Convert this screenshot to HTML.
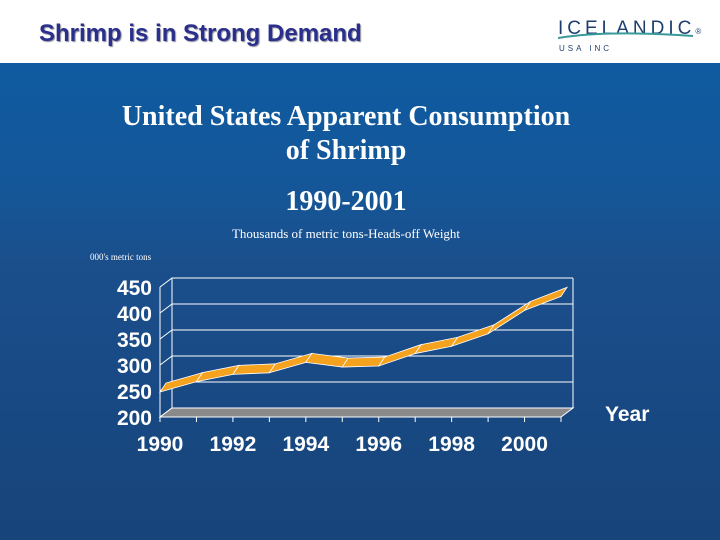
<!DOCTYPE html>
<html><head><meta charset="utf-8"><style>
body{margin:0;width:720px;height:540px;overflow:hidden;font-family:"Liberation Sans",sans-serif}
#bg{position:absolute;left:0;top:63px;width:720px;height:477px;background:linear-gradient(180deg,#0f5aa0 0%,#145799 25%,#1a4f8c 42%,#194a85 65%,#174479 100%)}
#top{position:absolute;left:0;top:0;width:720px;height:63px;background:#fff}
.t{position:absolute;color:#fff;font-family:"Liberation Serif",serif;text-align:center;font-weight:bold}
</style></head><body>
<div id="top">
<div style="position:absolute;left:39px;top:20px;font-size:24px;font-weight:bold;color:#2a2f8c;text-shadow:1px 1px 1px #889">Shrimp is in Strong Demand</div>
<div style="position:absolute;left:558px;top:18px;font-size:19px;letter-spacing:4px;color:#1d3f6e">ICELANDIC<span style="font-size:8px;letter-spacing:0">®</span></div>
<svg style="position:absolute;left:558px;top:30px" width="140" height="12"><path d="M0 8 Q50 0 135 6" stroke="#3a9a9a" stroke-width="2" fill="none"/></svg>
<div style="position:absolute;left:559px;top:44px;font-size:8px;letter-spacing:3px;color:#1d3f6e">USA INC</div>
</div>
<div id="bg"></div>
<div class="t" style="left:46px;width:600px;top:100px;font-size:28px;line-height:34px">United States Apparent Consumption<br>of Shrimp</div>
<div class="t" style="left:96px;width:500px;top:186px;font-size:28px">1990-2001</div>
<div class="t" style="left:146px;width:400px;top:226px;font-size:13px;font-weight:normal">Thousands of metric tons-Heads-off Weight</div>
<div class="t" style="left:90px;top:252px;font-size:9px;text-align:left;font-weight:normal">000's metric tons</div>
<svg id="chart" width="720" height="540" style="position:absolute;left:0;top:0"></svg>
<script>
const years=[1990,1991,1992,1993,1994,1995,1996,1997,1998,1999,2000,2001];
const values=[248,268,282,285,305,296,298,322,336,360,405,432];
const yTicks=[200,250,300,350,400,450];
const xLabels=[1990,1992,1994,1996,1998,2000];
const NS='http://www.w3.org/2000/svg';
const svg=document.getElementById('chart');
const x0=160,x1=561,yb=417,yt=287,DX=12,DY=-9;
const X=i=>x0+(x1-x0)*i/(years.length-1);
const Y=v=>yb-(v-200)/250*(yb-yt);
function mk(t,a){const e=document.createElementNS(NS,t);for(const k in a)e.setAttribute(k,a[k]);svg.appendChild(e);return e;}
yTicks.forEach(v=>{
 const l=mk('polyline',{points:`${x0},${Y(v)} ${x0+DX},${Y(v)+DY} ${x1+DX},${Y(v)+DY}`,fill:'none',stroke:'#fff','stroke-width':1});
 
 
 const t=mk('text',{x:152,y:Y(v)+8,'text-anchor':'end',fill:'#fff','font-size':21,'font-weight':'bold','font-family':'Liberation Sans'});
 t.textContent=v;
 
 
});
mk('line',{x1:x0+DX,y1:Y(450)+DY,x2:x0+DX,y2:Y(200)+DY,stroke:'#fff'});
mk('line',{x1:x1+DX,y1:Y(450)+DY,x2:x1+DX,y2:Y(200)+DY,stroke:'#fff'});
const fl=mk('polygon',{points:`${x0},${yb} ${x1},${yb} ${x1+DX},${yb+DY} ${x0+DX},${yb+DY}`,fill:'#8a8a8a',stroke:'#fff','stroke-width':1});


mk('line',{x1:x0,y1:Y(450),x2:x0,y2:yb,stroke:'#fff'});
mk('line',{x1:x0,y1:yb,x2:x1,y2:yb,stroke:'#fff'});
years.forEach((y,i)=>mk('line',{x1:X(i),y1:yb,x2:X(i),y2:yb+5,stroke:'#fff'}));
const fa=[0,0],ba=[6,-9];
for(let i=0;i<years.length-1;i++){
 const p=[[X(i)+fa[0],Y(values[i])+fa[1]],[X(i+1)+fa[0],Y(values[i+1])+fa[1]],[X(i+1)+ba[0],Y(values[i+1])+ba[1]],[X(i)+ba[0],Y(values[i])+ba[1]]];
 const s=mk('polygon',{points:p.map(q=>q.join(',')).join(' '),fill:'#f5a21f',stroke:'#fff','stroke-width':0.8});
 
 
}
xLabels.forEach(yr=>{
 const i=years.indexOf(yr);
 const t=mk('text',{x:X(i),y:451,'text-anchor':'middle',fill:'#fff','font-size':21,'font-weight':'bold','font-family':'Liberation Sans'});
 t.textContent=yr;
 
 
});
const yl=mk('text',{x:605,y:421,fill:'#fff','font-size':21,'font-weight':'bold','font-family':'Liberation Sans'});
yl.textContent='Year';


</script>
</body></html>
